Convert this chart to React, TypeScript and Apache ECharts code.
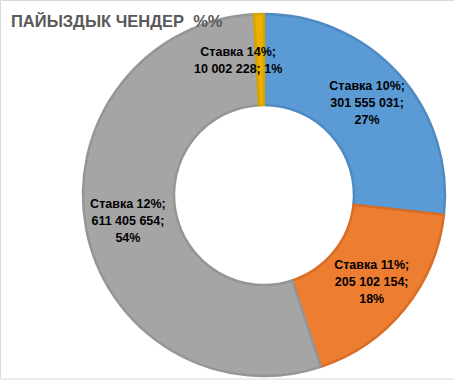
import React, { useEffect, useRef } from "react";
import * as echarts from "echarts";

const titleText = "ПАЙЫЗДЫК ЧЕНДЕР  %%";
const categories = ["Ставка 10%", "Ставка 11%", "Ставка 12%", "Ставка 14%"];
const values = [301555031, 205102154, 611405654, 10002228];
const colors = ["#5B9BD5", "#ED7D31", "#A5A5A5", "#EBB000"];
const borderColors = ["#4E8AC2", "#D86E26", "#959595", "#D9A300"];

function fmt(n: number): string {
  return String(n).replace(/\B(?=(\d{3})+(?!\d))/g, " ");
}

export default function App() {
  const ref = useRef<HTMLDivElement>(null);
  useEffect(() => {
    document.body.style.margin = "0";
    const chart = echarts.init(ref.current!, undefined, { renderer: "svg" });
    const total = values.reduce((a, b) => a + b, 0);
    const data = categories.map((c, i) => {
      const pct = Math.round((values[i] / total) * 100);
      const small = i === 3;
      return {
        name: c,
        value: values[i],
        itemStyle: { color: colors[i], borderColor: borderColors[i], borderWidth: 2.5 },
        label: {
          formatter: small
            ? `${c};\n${fmt(values[i])}; ${pct}%`
            : `${c};\n${fmt(values[i])};\n${pct}%`,
          offset: small ? [-22, 4] : [0, 0],
        },
      };
    });
    chart.setOption({
      animation: false,
      backgroundColor: "#ffffff",
      title: {
        text: titleText,
        left: 6,
        top: 7,
        textStyle: {
          fontFamily: "Liberation Sans",
          fontWeight: "bold",
          fontSize: 16.5,
          color: "#595959",
        },
      },
      graphic: [
        {
          type: "rect",
          z: -10,
          shape: { x: 0.5, y: 0.5, width: 470, height: 378.5 },
          style: { fill: "none", stroke: "#D9D9D9", lineWidth: 1 },
        },
      ],
      series: [
        {
          type: "pie",
          center: [264, 195],
          radius: [90, 181],
          startAngle: 90,
          clockwise: true,
          data,
          labelLine: { show: false },
          label: {
            show: true,
            position: "inside",
            color: "#000000",
            fontFamily: "Liberation Sans",
            fontWeight: "bold",
            fontSize: 12.5,
            lineHeight: 17,
            align: "center",
          },
          emphasis: { disabled: true },
        },
      ],
    });
    return () => chart.dispose();
  }, []);
  return <div ref={ref} style={{ width: 454, height: 381 }} />;
}
